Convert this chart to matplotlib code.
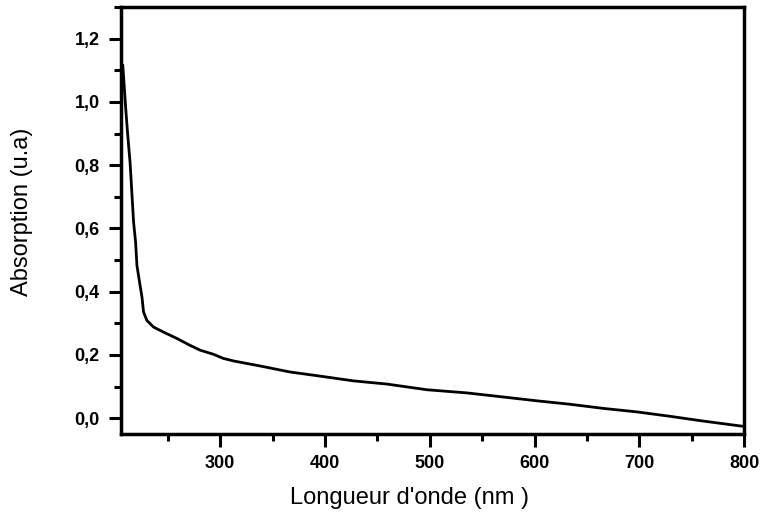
import matplotlib
matplotlib.use("Agg")
import matplotlib.pyplot as plt
from matplotlib.ticker import MultipleLocator, FuncFormatter

# spectre d'absorption
wavelength = [207, 208, 209.6, 211.5, 214, 215.7, 217.3, 219.2, 220.5, 223, 225.3,
              226.8, 230, 236.4, 246, 258.7, 271.4, 280.9, 293.6, 303, 312.7,
              338.2, 366.8, 395.4, 427.2, 459, 497.2, 535.4, 570.3, 602.2, 634,
              665.7, 697.6, 729.4, 761, 797.6, 800]
absorption = [1.115, 1.067, 0.988, 0.904, 0.806, 0.71, 0.62, 0.557, 0.483, 0.43, 0.383,
              0.336, 0.309, 0.288, 0.272, 0.252, 0.23, 0.215, 0.202, 0.189, 0.181,
              0.165, 0.146, 0.133, 0.118, 0.108, 0.090, 0.080, 0.067, 0.055, 0.044,
              0.031, 0.020, 0.006, -0.009, -0.025, -0.026]

plt.rcParams['font.family'] = ['Liberation Sans', 'DejaVu Sans']

fig = plt.figure(figsize=(7.61, 5.17), dpi=100)
ax = fig.add_axes([0.1586, 0.1605, 0.8191, 0.826])

ax.plot(wavelength, absorption, color='black', linewidth=2)

ax.set_xlim(205, 800)
ax.set_ylim(-0.05, 1.3)

ax.xaxis.set_major_locator(MultipleLocator(100))
ax.xaxis.set_minor_locator(MultipleLocator(50))
ax.yaxis.set_major_locator(MultipleLocator(0.2))
ax.yaxis.set_minor_locator(MultipleLocator(0.1))
ax.yaxis.set_major_formatter(FuncFormatter(lambda v, p: ('%.1f' % v).replace('.', ',')))

for s in ax.spines.values():
    s.set_linewidth(2.5)

ax.tick_params(which='major', direction='out', length=9, width=2.2, labelsize=13, pad=6)
ax.tick_params(which='minor', direction='out', length=5, width=2.2)
for lab in ax.get_xticklabels() + ax.get_yticklabels():
    lab.set_fontweight('bold')

ax.set_xlabel("Longueur d'onde (nm )", fontsize=17)
ax.set_ylabel("Absorption (u.a)", fontsize=17)
ax.xaxis.set_label_coords(0.464, -0.125)
ax.yaxis.set_label_coords(-0.14, 0.52)

fig.savefig("out.png", dpi=100)
